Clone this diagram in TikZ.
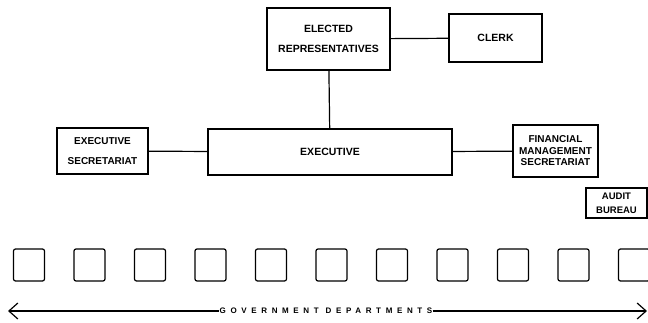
\documentclass[tikz,border=0pt]{standalone}
\usepackage{fontspec}
\setmainfont{Liberation Sans}
\usepackage{tikz}
\usetikzlibrary{arrows.meta}

\begin{document}
\begin{tikzpicture}[x=1pt, y=-1pt,
    orgbox/.style={draw, line width=1.2pt, inner sep=0pt, align=center,
        font=\bfseries\fontsize{10.5}{20}\selectfont},
    deptbox/.style={draw, line width=1.2pt, rounded corners=2pt,
        minimum width=31pt, minimum height=32pt},
    link/.style={line width=1.2pt}]
        \useasboundingbox (0, 0) rectangle (648, 323);

        \node[orgbox, minimum width=123pt, minimum height=62pt] (elected) at (328.5, 39)
            {ELECTED\\REPRESENTATIVES};
        \node[orgbox, minimum width=93pt, minimum height=48pt] (clerk) at (495.5, 38) {CLERK};

        \node[orgbox, minimum width=244pt, minimum height=46pt] (exec) at (330, 152) {EXECUTIVE};
        \node[orgbox, minimum width=91pt, minimum height=46pt,
            font=\bfseries\fontsize{10}{20}\selectfont] (execsec) at (102.5, 151)
            {EXECUTIVE\\SECRETARIAT};
        \node[orgbox, minimum width=85pt, minimum height=52pt,
            font=\bfseries\fontsize{10}{11.5}\selectfont] (finsec) at (555.5, 151)
            {FINANCIAL\\MANAGEMENT\\SECRETARIAT};
        \node[orgbox, minimum width=61pt, minimum height=30pt,
            font=\bfseries\fontsize{9.5}{14}\selectfont] (audit) at (616.5, 203)
            {AUDIT\\BUREAU};

        \draw[link] (elected) -- (clerk);
        \draw[link] (elected) -- (exec);
        \draw[link] (execsec) -- (exec);
        \draw[link] (finsec) -- (exec);

        \foreach \i in {0,...,10}
            \node[deptbox] (dept\i) at (29 + 60.5*\i, 265) {};

        \coordinate (leftend) at (8, 311);
        \coordinate (rightend) at (647, 311);
        \node[inner sep=0pt, font=\bfseries\fontsize{8}{8}\selectfont\addfontfeature{LetterSpace=58}]
            (govlabel) at (326, 311) {GOVERNMENT DEPARTMENTS};
        \draw[link, {Straight Barb[length=9pt, width=16pt]}-] (leftend) -- (govlabel);
        \draw[link, -{Straight Barb[length=9pt, width=16pt]}] (govlabel) -- (rightend);
    \end{tikzpicture}
\end{document}
